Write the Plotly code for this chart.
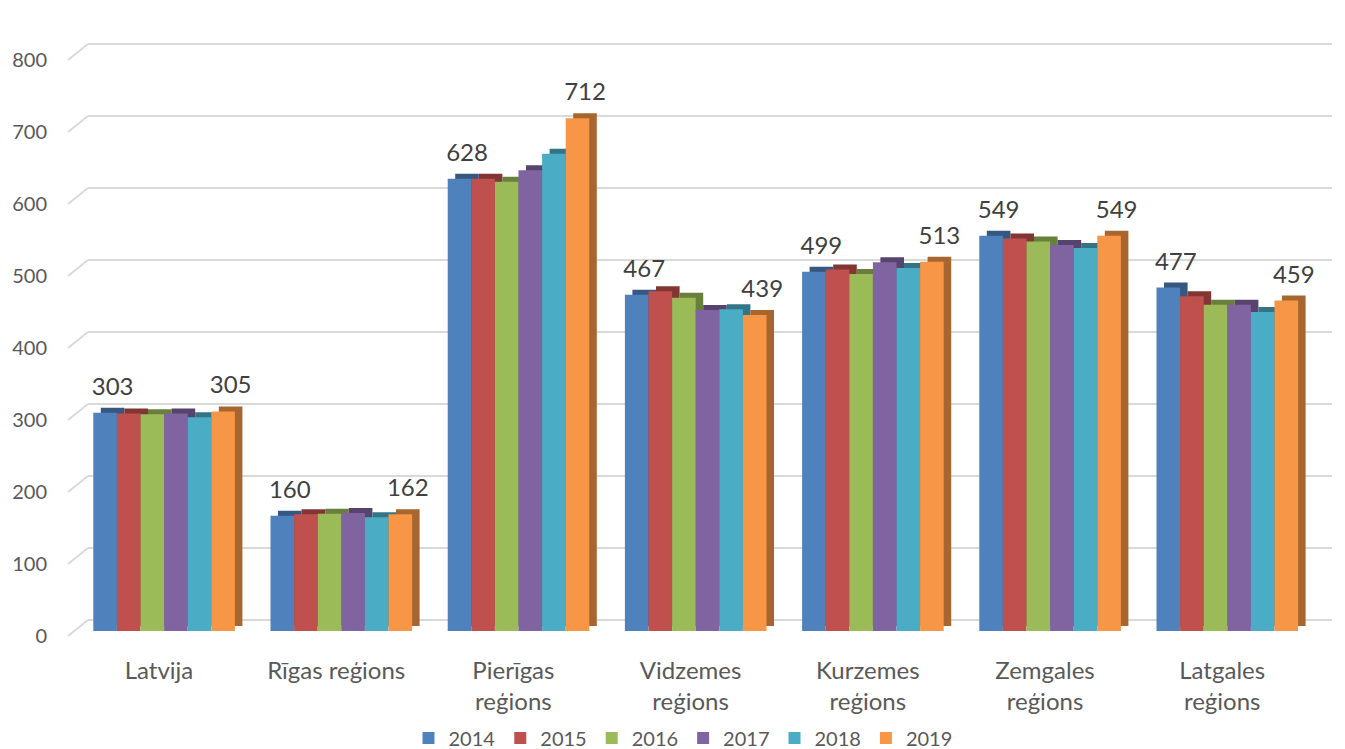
import plotly.graph_objects as go

# Categories and tick labels (two-line labels as drawn on the axis)
regions = ["Latvija", "Rīgas reģions", "Pierīgas reģions", "Vidzemes reģions",
           "Kurzemes reģions", "Zemgales reģions", "Latgales reģions"]
tick_labels = ["Latvija", "Rīgas reģions", "Pierīgas<br>reģions", "Vidzemes<br>reģions",
               "Kurzemes<br>reģions", "Zemgales<br>reģions", "Latgales<br>reģions"]

years = ["2014", "2015", "2016", "2017", "2018", "2019"]
v2014 = [303, 160, 628, 467, 499, 549, 477]
v2015 = [302, 162, 628, 472, 502, 545, 465]
v2016 = [301, 163, 624, 463, 496, 541, 453]
v2017 = [302, 164, 640, 446, 512, 536, 453]
v2018 = [297, 158, 663, 447, 504, 532, 443]
v2019 = [305, 162, 712, 439, 513, 549, 459]
labelled_years = ["2014", "2019"]

y_ticks = [0, 100, 200, 300, 400, 500, 600, 700, 800]

colors = ["#4F81BD", "#C0504D", "#9BBB59", "#8064A2", "#4BACC6", "#F79646"]

FONT = "Lato"
TEXT = "#595959"

# ── pixel geometry (imitating Excel's 3D column look) ────────────────────────
CAT_PX = 177.2        # distance between categories
BAR_PX = 23.6         # width of one column front face
GROUP_LEFT_PX = -65.7  # left edge of first column relative to label centre
DX_PX, DY_PX = 7.5, 5.0  # depth of column (side/top faces)
LABEL_LIFT_PX = 10.0   # data labels sit a little above the column top
PX_PER_UNIT = 0.72
BACK_SHIFT_UNITS = 16 / PX_PER_UNIT  # back wall gridlines sit 16px higher

series = [v2014, v2015, v2016, v2017, v2018, v2019]
xs = list(range(len(regions)))


def darker(hex_color, f=0.68):
    r, g, b = (int(hex_color[i:i + 2], 16) for i in (1, 3, 5))
    return "rgb({},{},{})".format(int(r * f), int(g * f), int(b * f))


fig = go.Figure()

# depth faces first (drawn behind the fronts)
for k, (year, vals, col) in enumerate(zip(years, series, colors)):
    off = (GROUP_LEFT_PX + k * BAR_PX + DX_PX) / CAT_PX
    fig.add_trace(go.Bar(
        x=xs, y=vals, base=DY_PX / PX_PER_UNIT, offset=off, width=BAR_PX / CAT_PX,
        marker=dict(color=darker(col), line=dict(width=0)),
        showlegend=False, hoverinfo="skip",
    ))

# front faces
for k, (year, vals, col) in enumerate(zip(years, series, colors)):
    off = (GROUP_LEFT_PX + k * BAR_PX) / CAT_PX
    fig.add_trace(go.Bar(
        x=xs, y=vals, offset=off, width=BAR_PX / CAT_PX, name=year,
        marker=dict(color=col, line=dict(width=0)),
    ))

# data labels for first and last year (carried by invisible bars)
for k, (year, vals) in enumerate(zip(years, series)):
    if year not in labelled_years:
        continue
    off = (GROUP_LEFT_PX + k * BAR_PX + DX_PX) / CAT_PX
    fig.add_trace(go.Bar(
        x=xs, y=vals, base=LABEL_LIFT_PX / PX_PER_UNIT, offset=off,
        width=BAR_PX / CAT_PX, marker=dict(color="rgba(0,0,0,0)", line=dict(width=0)),
        text=[str(v) for v in vals], textposition="outside", constraintext="none",
        cliponaxis=False, textfont=dict(family=FONT, size=24, color="#404040"),
        showlegend=False, hoverinfo="skip",
    ))

# empty traces so the overlay axes (back-wall grid, front tick labels) exist
fig.add_trace(go.Scatter(x=[], y=[], yaxis="y2", showlegend=False, hoverinfo="skip"))
fig.add_trace(go.Scatter(x=[], y=[], yaxis="y3", showlegend=False, hoverinfo="skip"))

# plot area: x 88..1332 px, y 40..640 px
W, H = 1345, 749
left, right, top, bottom = 88, 13, 40, 109
plot_w = W - left - right
plot_h = H - top - bottom

x_lo = (88 - 159) / CAT_PX
x_hi = (1332 - 159) / CAT_PX

bar_zero_px, front_zero_px, back_zero_px = 631, 636, 620


def yrange(zero_px):
    return [(zero_px - (top + plot_h)) / PX_PER_UNIT, (zero_px - top) / PX_PER_UNIT]


# short slanted lines joining front axis to back-wall gridlines
x_front = (68 - left) / plot_w
for v in y_ticks:
    fig.add_shape(type="line", xref="paper", yref="y3", x0=x_front, x1=0,
                  y0=v, y1=v + BACK_SHIFT_UNITS,
                  line=dict(color="#D9D9D9", width=2), layer="below")

fig.update_layout(
    width=W, height=H,
    margin=dict(l=left, r=right, t=top, b=bottom),
    paper_bgcolor="white", plot_bgcolor="white",
    barmode="overlay",
    font=dict(family=FONT, color=TEXT, size=20),
    xaxis=dict(
        range=[x_lo, x_hi], tickvals=xs, ticktext=tick_labels, automargin=False,
        showgrid=False, zeroline=False, showline=False, ticks="",
        tickfont=dict(family=FONT, size=24, color=TEXT), ticklabelstandoff=14,
    ),
    yaxis=dict(range=yrange(bar_zero_px), showgrid=False, zeroline=False,
               showticklabels=False, automargin=False),
    yaxis2=dict(range=yrange(back_zero_px), overlaying="y", tickvals=y_ticks,
                showgrid=True, gridcolor="#D9D9D9", gridwidth=2, automargin=False,
                zeroline=False, showticklabels=False),
    yaxis3=dict(range=yrange(front_zero_px), overlaying="y", tickvals=y_ticks,
                showgrid=False, zeroline=False, ticklabelstandoff=40, automargin=False,
                tickfont=dict(family=FONT, size=20, color=TEXT)),
    legend=dict(orientation="h", x=683 / W, xref="container", xanchor="center",
                y=(H - 738) / H, yref="container", yanchor="middle",
                font=dict(family=FONT, size=20, color=TEXT),
                itemwidth=30, tracegroupgap=0),
)

fig.write_html("out.html", config={"displayModeBar": False},
               post_script="document.body.style.margin='0';")
